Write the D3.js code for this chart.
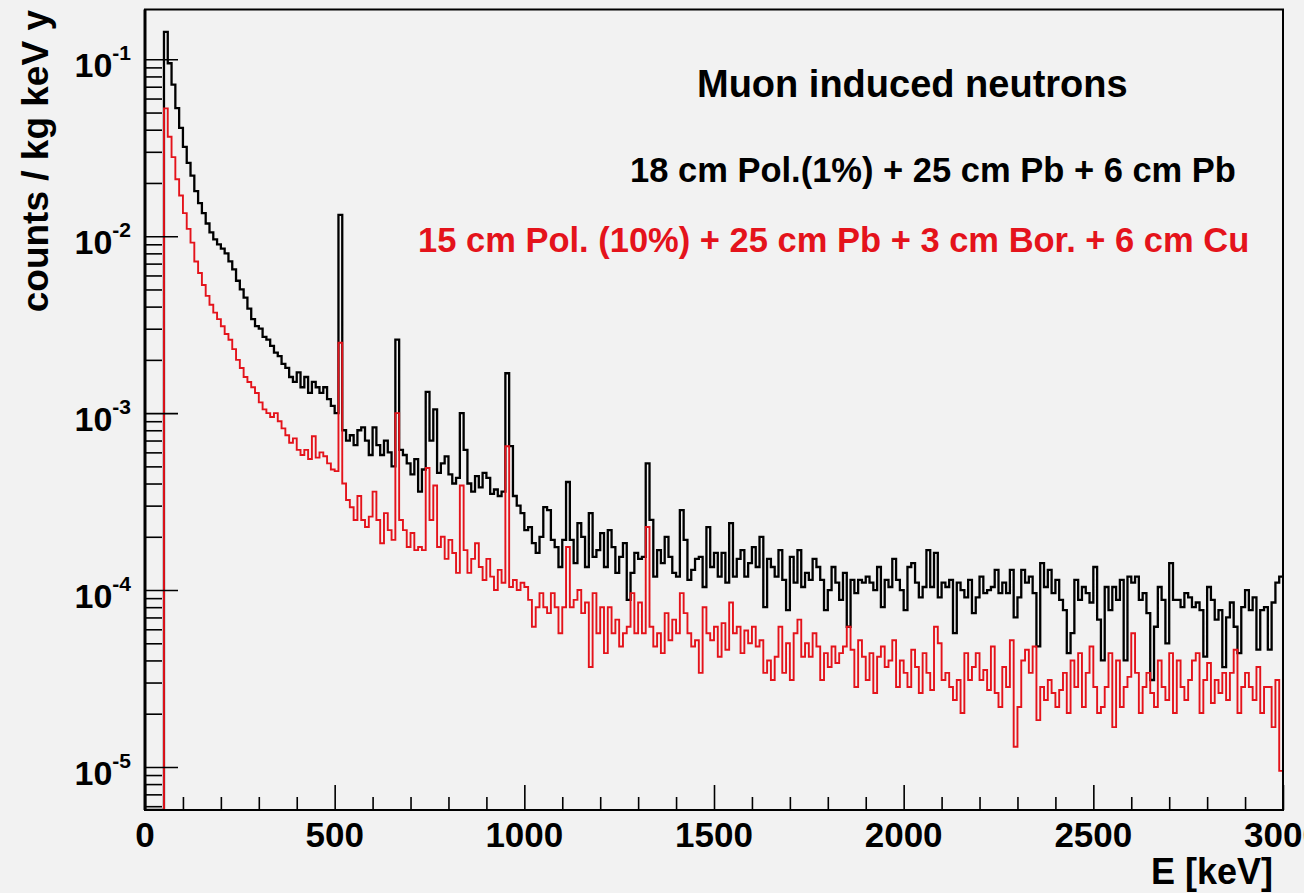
<!DOCTYPE html>
<html>
<head>
<meta charset="utf-8">
<script src="https://cdn.jsdelivr.net/npm/d3@7"></script>
<style>
  html, body { margin: 0; padding: 0; background: #f2f2f2; }
  svg { display: block; }
  text { font-family: "Liberation Sans", Arial, Helvetica, sans-serif; font-weight: bold; }
</style>
</head>
<body>
<svg id="chart" width="1304" height="893"></svg>
<script>
// ---- spectrum data: counts / kg keV y in 10 keV bins from 0 to 3000 keV ----
const binWidth = 10;
const energyRange = [0, 3000];
const countsRange = [5.71e-6, 0.1912];

// 18 cm Pol.(1%) + 25 cm Pb + 6 cm Pb
const blackCounts = [
  0, 0, 0, 0, 0, 0.143, 0.095, 0.072, 0.053, 0.041,
  0.032, 0.026, 0.022, 0.018, 0.0154, 0.0135, 0.0118, 0.0105, 0.0096, 0.0090,
  0.0085, 0.0080, 0.0072, 0.0065, 0.0056, 0.0050, 0.0045, 0.0039, 0.0034, 0.0031,
  0.0030, 0.0027, 0.0026, 0.0024, 0.0022, 0.0021, 0.0019, 0.0018, 0.0016, 0.0015,
  0.0017, 0.0014, 0.0016, 0.0013, 0.0015, 0.0014, 0.0013, 0.0014, 0.0012, 0.0011,
  0.0010, 0.0132, 0.00080, 0.00070, 0.00075, 0.00066, 0.00080, 0.00083, 0.00070, 0.00058,
  0.00083, 0.00066, 0.00058, 0.00070, 0.00060, 0.00050, 0.0026, 0.00062, 0.00058, 0.00052,
  0.00045, 0.00055, 0.00036, 0.00048, 0.00132, 0.00070, 0.00105, 0.00046, 0.00052, 0.00057,
  0.00045, 0.00040, 0.00043, 0.00100, 0.00062, 0.00040, 0.00036, 0.00044, 0.00038, 0.00046,
  0.00043, 0.00035, 0.00037, 0.00034, 0.00036, 0.00168, 0.00065, 0.00034, 0.00030, 2.72e-4,
  2.18e-4, 2.27e-4, 1.84e-4, 1.62e-4, 2.0e-4, 2.94e-4, 2.83e-4, 1.92e-4, 1.75e-4, 1.35e-4,
  1.92e-4, 4.08e-4, 1.92e-4, 1.42e-4, 2.39e-4, 2.0e-4, 1.35e-4, 2.72e-4, 1.54e-4, 1.68e-4,
  2.10e-4, 1.35e-4, 2.18e-4, 1.75e-4, 1.25e-4, 1.54e-4, 1.84e-4, 8.8e-5, 1.25e-4, 1.62e-4,
  1.50e-4, 1.54e-4, 5.2e-4, 2.49e-4, 1.19e-4, 1.68e-4, 1.42e-4, 2.0e-4, 1.54e-4, 1.25e-4,
  1.19e-4, 2.83e-4, 1.92e-4, 1.14e-4, 1.30e-4, 1.50e-4, 1.54e-4, 1.04e-4, 2.27e-4, 1.35e-4,
  1.62e-4, 1.19e-4, 1.62e-4, 1.10e-4, 2.39e-4, 1.19e-4, 1.50e-4, 1.68e-4, 1.19e-4, 1.42e-4,
  1.75e-4, 1.35e-4, 2.0e-4, 8.0e-5, 1.50e-4, 1.35e-4, 1.19e-4, 1.68e-4, 1.14e-4, 7.7e-5,
  1.54e-4, 1.10e-4, 1.68e-4, 1.04e-4, 1.25e-4, 1.14e-4, 1.50e-4, 1.35e-4, 1.14e-4, 7.7e-5,
  1.0e-4, 1.35e-4, 1.10e-4, 8.8e-5, 1.25e-4, 6.2e-5, 1.14e-4, 9.6e-5, 1.14e-4, 1.10e-4,
  1.19e-4, 1.10e-4, 1.0e-4, 1.35e-4, 8.0e-5, 1.14e-4, 1.04e-4, 1.50e-4, 1.14e-4, 1.0e-4,
  7.7e-5, 1.35e-4, 1.42e-4, 1.10e-4, 9.1e-5, 1.04e-4, 1.68e-4, 1.04e-4, 1.62e-4, 9.1e-5,
  1.10e-4, 1.04e-4, 1.14e-4, 5.7e-5, 1.10e-4, 1.0e-4, 9.1e-5, 1.14e-4, 7.4e-5, 9.1e-5,
  1.19e-4, 9.6e-5, 1.0e-4, 1.04e-4, 1.30e-4, 9.6e-5, 1.10e-4, 9.6e-5, 1.30e-4, 7.0e-5,
  9.1e-5, 1.30e-4, 1.10e-4, 1.19e-4, 9.6e-5, 4.8e-5, 1.42e-4, 1.04e-4, 1.30e-4, 9.6e-5,
  1.14e-4, 8.8e-5, 7.7e-5, 4.4e-5, 5.7e-5, 1.14e-4, 8.8e-5, 1.04e-4, 9.6e-5, 8.5e-5,
  1.35e-4, 6.8e-5, 4.0e-5, 1.04e-4, 7.7e-5, 1.04e-4, 8.8e-5, 1.14e-4, 4.0e-5, 1.19e-4,
  1.10e-4, 1.19e-4, 8.8e-5, 9.6e-5, 7.4e-5, 3.1e-5, 6.2e-5, 1.04e-4, 8.8e-5, 5.0e-5,
  1.42e-4, 8.8e-5, 8.8e-5, 8.0e-5, 9.6e-5, 9.1e-5, 8.0e-5, 8.5e-5, 7.7e-5, 4.2e-5,
  1.04e-4, 8.8e-5, 6.8e-5, 7.7e-5, 3.67e-5, 7.0e-5, 8.5e-5, 6.2e-5, 4.4e-5, 8.0e-5,
  1.0e-4, 7.7e-5, 9.1e-5, 4.6e-5, 7.7e-5, 8.0e-5, 4.6e-5, 8.5e-5, 1.1e-4, 1.19e-4
];

// 15 cm Pol. (10%) + 25 cm Pb + 3 cm Bor. + 6 cm Cu
const redCounts = [
  0, 0, 0, 0, 0, 0.0528, 0.0365, 0.028, 0.021, 0.017,
  0.0135, 0.011, 0.0092, 0.0072, 0.0062, 0.0053, 0.0046, 0.0041, 0.0037, 0.0034,
  0.0031, 0.0028, 0.0026, 0.0023, 0.0020, 0.0018, 0.0016, 0.0015, 0.0014, 0.0013,
  0.00115, 0.00105, 0.0010, 0.00095, 0.0010, 0.0009, 0.00082, 0.00075, 0.00068, 0.00072,
  0.00062, 0.00058, 0.00062, 0.00055, 0.00074, 0.00056, 0.00060, 0.00057, 0.00052, 0.00048,
  0.00047, 0.0025, 4.0e-4, 3.23e-4, 2.94e-4, 2.49e-4, 3.4e-4, 2.49e-4, 2.27e-4, 2.6e-4,
  3.6e-4, 2.49e-4, 1.84e-4, 2.72e-4, 2.18e-4, 1.92e-4, 1.0e-3, 2.49e-4, 2.18e-4, 1.75e-4,
  2.1e-4, 1.68e-4, 1.75e-4, 1.68e-4, 4.9e-4, 2.49e-4, 3.9e-4, 1.75e-4, 2.0e-4, 1.5e-4,
  1.92e-4, 1.62e-4, 1.25e-4, 3.9e-4, 1.68e-4, 1.25e-4, 1.5e-4, 1.84e-4, 1.35e-4, 1.14e-4,
  1.5e-4, 1.19e-4, 1.0e-4, 1.3e-4, 1.1e-4, 6.5e-4, 1.04e-4, 1.14e-4, 1.0e-4, 1.10e-4,
  1.04e-4, 8.8e-5, 6.2e-5, 8.0e-5, 9.6e-5, 8.0e-5, 7.4e-5, 9.6e-5, 8.0e-5, 5.7e-5,
  8.0e-5, 1.75e-4, 8.0e-5, 8.8e-5, 1.0e-4, 7.4e-5, 8.5e-5, 3.67e-5, 9.6e-5, 5.7e-5,
  8.0e-5, 4.4e-5, 8.0e-5, 5.7e-5, 6.8e-5, 4.8e-5, 5.7e-5, 6.2e-5, 9.6e-5, 5.7e-5,
  8.5e-5, 5.7e-5, 2.27e-4, 6.2e-5, 4.8e-5, 5.7e-5, 4.4e-5, 7.4e-5, 5.2e-5, 6.8e-5,
  5.7e-5, 9.6e-5, 7.4e-5, 5.7e-5, 4.8e-5, 5.2e-5, 3.4e-5, 8.0e-5, 5.7e-5, 5.2e-5,
  6.2e-5, 4.2e-5, 6.5e-5, 4.6e-5, 8.5e-5, 5.7e-5, 6.2e-5, 4.4e-5, 5.9e-5, 5.0e-5,
  6.2e-5, 4.8e-5, 5.2e-5, 3.4e-5, 4.0e-5, 3.1e-5, 4.2e-5, 6.2e-5, 3.4e-5, 5.0e-5,
  3.1e-5, 5.7e-5, 6.8e-5, 4.2e-5, 5.0e-5, 4.2e-5, 5.7e-5, 4.8e-5, 3.1e-5, 4.4e-5,
  3.67e-5, 4.8e-5, 3.87e-5, 4.4e-5, 4.8e-5, 6.2e-5, 4.6e-5, 2.83e-5, 5.2e-5, 4.2e-5,
  3.1e-5, 4.4e-5, 2.62e-5, 4.2e-5, 4.8e-5, 3.67e-5, 4.0e-5, 5.2e-5, 2.83e-5, 4.0e-5,
  3.4e-5, 2.83e-5, 4.6e-5, 3.67e-5, 2.62e-5, 4.4e-5, 3.4e-5, 2.72e-5, 6.2e-5, 5.0e-5,
  3.1e-5, 3.4e-5, 2.83e-5, 2.39e-5, 3.1e-5, 2.02e-5, 4.4e-5, 3.1e-5, 3.67e-5, 4.4e-5,
  3.1e-5, 3.53e-5, 2.72e-5, 4.8e-5, 2.62e-5, 2.18e-5, 3.67e-5, 2.83e-5, 5.2e-5, 1.30e-5,
  2.18e-5, 4.0e-5, 4.6e-5, 3.4e-5, 4.8e-5, 1.84e-5, 2.83e-5, 2.39e-5, 3.1e-5, 2.62e-5,
  2.18e-5, 2.72e-5, 3.4e-5, 2.02e-5, 4.0e-5, 2.83e-5, 4.4e-5, 2.18e-5, 3.4e-5, 4.8e-5,
  2.83e-5, 2.02e-5, 2.18e-5, 2.83e-5, 4.4e-5, 1.68e-5, 4.0e-5, 2.18e-5, 2.83e-5, 3.23e-5,
  5.7e-5, 3.4e-5, 2.02e-5, 2.83e-5, 3.4e-5, 2.62e-5, 2.18e-5, 4.0e-5, 2.83e-5, 2.39e-5,
  4.4e-5, 2.02e-5, 4.0e-5, 2.83e-5, 2.39e-5, 3.1e-5, 4.0e-5, 4.4e-5, 2.02e-5, 3.1e-5,
  3.87e-5, 2.3e-5, 3.1e-5, 2.62e-5, 3.4e-5, 2.39e-5, 3.4e-5, 4.6e-5, 2.02e-5, 2.83e-5,
  3.4e-5, 2.83e-5, 2.39e-5, 3.67e-5, 2.02e-5, 2.83e-5, 2.83e-5, 1.68e-5, 3.1e-5, 9.5e-6
];

const xMajorTicks = [0, 500, 1000, 1500, 2000, 2500, 3000];
const xTickLabels = ["0", "500", "1000", "1500", "2000", "2500", "3000"];
const yDecades = [-5, -4, -3, -2, -1];
const yTickLabels = ["-5", "-4", "-3", "-2", "-1"];
const titleText = "Muon induced neutrons";
const seriesNames = ["18 cm Pol.(1%) + 25 cm Pb + 6 cm Pb",
                     "15 cm Pol. (10%) + 25 cm Pb + 3 cm Bor. + 6 cm Cu"];
const seriesColors = ["#000000", "#e4131b"];
const xTitle = "E [keV]";
const yTitle = "counts / kg keV y";

// ---- layout ----
const W = 1304, H = 893;
const plot = { left: 145, right: 1283, top: 9.5, bottom: 810 };

const svg = d3.select("#chart");
svg.append("rect").attr("width", W).attr("height", H).attr("fill", "#f2f2f2");

const x = d3.scaleLinear().domain(energyRange).range([plot.left, plot.right]);
const y = d3.scaleLog().domain(countsRange).range([plot.bottom, plot.top]);

svg.append("clipPath").attr("id", "plotClip")
  .append("rect")
  .attr("x", plot.left).attr("y", plot.top)
  .attr("width", plot.right - plot.left).attr("height", plot.bottom - plot.top);

// histogram outline: empty bins sit on the bottom of the log axis
function histPoints(counts) {
  const pts = counts.map((v, i) => [i * binWidth, v]);
  pts.push([counts.length * binWidth, counts[counts.length - 1]]);
  return pts;
}
const histLine = d3.line()
  .x(d => x(d[0]))
  .y(d => y(Math.max(d[1], countsRange[0])))
  .curve(d3.curveStepAfter);

const hist = svg.append("g").attr("clip-path", "url(#plotClip)");
hist.append("path").datum(histPoints(blackCounts))
  .attr("d", histLine).attr("fill", "none")
  .attr("stroke", seriesColors[0]).attr("stroke-width", 2.3)
  .attr("stroke-linejoin", "miter");
hist.append("path").datum(histPoints(redCounts))
  .attr("d", histLine).attr("fill", "none")
  .attr("stroke", seriesColors[1]).attr("stroke-width", 1.9)
  .attr("stroke-linejoin", "miter");

// ---- axes: ticks point into the frame ----
function styleAxis(g) {
  g.select(".domain").remove();
  g.selectAll(".tick line").attr("stroke", "#000").attr("stroke-width", 1.6);
  g.selectAll(".tick text").remove();
}
const yMajor = yDecades.map(d => Math.pow(10, d));
const yMinor = [];
for (let d = -6; d <= -1; d++) {
  for (let m = 2; m <= 9; m++) {
    const v = m * Math.pow(10, d);
    if (v >= countsRange[0] && v <= countsRange[1]) yMinor.push(v);
  }
}
svg.append("g").attr("transform", `translate(${plot.left},0)`)
  .call(d3.axisLeft(y).tickValues(yMajor).tickSize(-33).tickFormat(""))
  .call(styleAxis);
svg.append("g").attr("transform", `translate(${plot.left},0)`)
  .call(d3.axisLeft(y).tickValues(yMinor).tickSize(-17).tickFormat(""))
  .call(styleAxis);

const xMinor = d3.range(100, 3000, 100).filter(v => v % 500 !== 0);
svg.append("g").attr("transform", `translate(0,${plot.bottom})`)
  .call(d3.axisBottom(x).tickValues(xMajorTicks).tickSize(-25).tickFormat(""))
  .call(styleAxis);
svg.append("g").attr("transform", `translate(0,${plot.bottom})`)
  .call(d3.axisBottom(x).tickValues(xMinor).tickSize(-13).tickFormat(""))
  .call(styleAxis);

// frame
svg.append("rect")
  .attr("x", plot.left).attr("y", plot.top)
  .attr("width", plot.right - plot.left).attr("height", plot.bottom - plot.top)
  .attr("fill", "none").attr("stroke", "#000").attr("stroke-width", 2);
svg.append("line")
  .attr("x1", plot.left).attr("x2", plot.left)
  .attr("y1", plot.top).attr("y2", plot.bottom)
  .attr("stroke", "#000").attr("stroke-width", 3);

// y tick labels: 10 with a superscript exponent
const yLab = svg.append("g");
yDecades.forEach((d, i) => {
  const t = yLab.append("text")
    .attr("x", 131).attr("y", y(Math.pow(10, d)) + 18)
    .attr("text-anchor", "end").attr("fill", "#000");
  t.append("tspan").attr("font-size", 34).text("10");
  t.append("tspan").attr("font-size", 21).attr("dy", -17).text(yTickLabels[i]);
});

// x tick labels (the last one runs past the right edge of the canvas)
svg.append("g").selectAll("text").data(xMajorTicks).join("text")
  .attr("x", d => x(d)).attr("y", 847)
  .attr("text-anchor", "middle").attr("font-size", 35).attr("fill", "#000")
  .text((d, i) => xTickLabels[i]);

// axis titles
svg.append("text")
  .attr("x", 1273).attr("y", 884)
  .attr("text-anchor", "end").attr("font-size", 36).attr("fill", "#000")
  .text(xTitle);
svg.append("text")
  .attr("transform", "translate(48,10) rotate(-90)")
  .attr("text-anchor", "end").attr("font-size", 37).attr("fill", "#000")
  .text(yTitle);

// title and series labels
svg.append("text")
  .attr("x", 697).attr("y", 97)
  .attr("font-size", 38).attr("fill", "#000")
  .text(titleText);
svg.append("text")
  .attr("x", 630).attr("y", 182)
  .attr("font-size", 34.5).attr("fill", seriesColors[0])
  .text(seriesNames[0]);
svg.append("text")
  .attr("x", 418).attr("y", 252)
  .attr("font-size", 34.5).attr("fill", seriesColors[1])
  .text(seriesNames[1]);
</script>
</body>
</html>
